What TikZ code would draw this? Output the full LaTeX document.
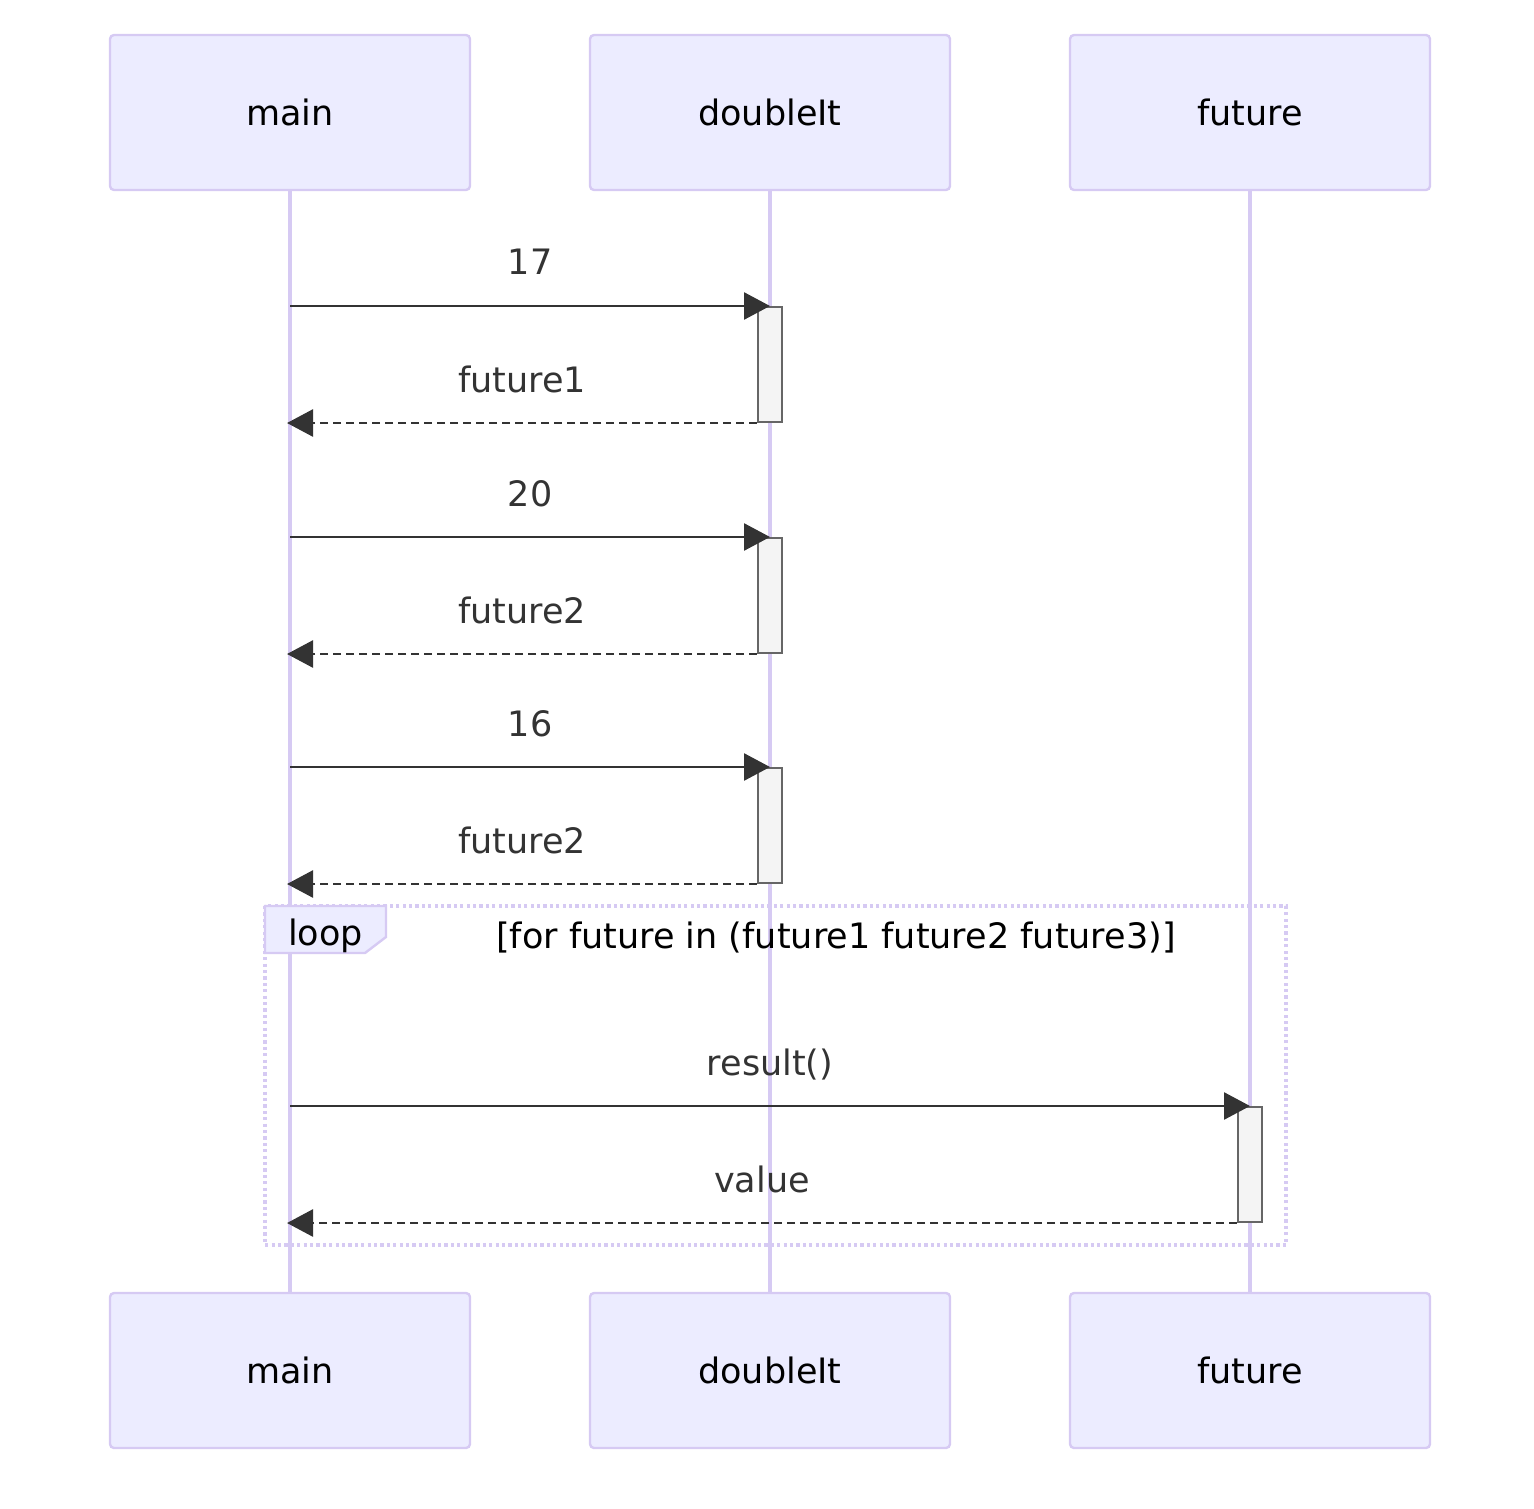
\documentclass[tikz,border=0pt]{standalone}
\usepackage{fontspec}
\setmainfont{DejaVu Sans}
\usetikzlibrary{arrows.meta,positioning}

\definecolor{actfill}{HTML}{ECECFF}
\definecolor{actline}{HTML}{D6CAF3}
\definecolor{msgcol}{HTML}{333333}
\definecolor{barfill}{HTML}{F4F4F4}
\definecolor{barline}{HTML}{666666}

\tikzset{
  actor/.style={draw=actline, fill=actfill, line width=1.2pt, rounded corners=2pt,
    minimum width=180pt, minimum height=77.5pt, inner sep=0pt,
    font=\fontsize{17.5}{21}\selectfont},
  lifeline/.style={draw=actline, line width=2pt},
  bar/.style={draw=barline, fill=barfill, line width=1pt,
    minimum width=12pt, minimum height=57.5pt, inner sep=0pt},
  msg/.style={draw=msgcol, line width=1.3pt, -{Triangle[length=13pt,width=13.5pt]}},
  reply/.style={msg, dash pattern=on 4pt off 2.5pt},
  lbl/.style={text=msgcol, anchor=base, yshift=15.5pt, inner sep=0pt,
    font=\fontsize{17.5}{21}\selectfont},
  loopline/.style={draw=actline, line width=1.6pt, dash pattern=on 1.6pt off 1.6pt},
  looptab/.style={draw=actline, fill=actfill, line width=1.2pt},
}

\begin{document}
\begin{tikzpicture}[x=0.5pt,y=-0.5pt]

        \useasboundingbox (0,0) rectangle (1534,1508);

        % actors
        \node[actor] (mainTop) at (290,112.5) {main};
        \node[actor] (dblTop) at (770,112.5) {doubleIt};
        \node[actor] (futTop) at (1250,112.5) {future};
        \node[actor] (mainBot) at (290,1370.5) {main};
        \node[actor] (dblBot) at (770,1370.5) {doubleIt};
        \node[actor] (futBot) at (1250,1370.5) {future};

        \draw[lifeline] (mainTop) -- (mainBot);
        \draw[lifeline] (dblTop) -- (dblBot);
        \draw[lifeline] (futTop) -- (futBot);

        % loop frame
        \coordinate (loopNW) at (265,906);
        \coordinate (loopSE) at (1286,1245);
        \draw[loopline] (loopNW) rectangle (loopSE);
        \draw[looptab] (loopNW) -- (386,906) -- (386,937) -- (365,953) -- (265,953) -- cycle;
        \node[anchor=base, inner sep=0pt, font=\fontsize{17.5}{21}\selectfont] (loopLbl) at (325.5,945) {loop};
        \node[anchor=base, inner sep=0pt, font=\fontsize{17.5}{21}\selectfont] (loopCond) at (836,948)
            {[for future in (future1 future2 future3)]};

        % calls to doubleIt
        \foreach \y/\a/\r [count=\i] in {306/17/future1, 537/20/future2, 767/16/future2}{
            \node[bar, anchor=north] (bar\i) at (770,\y) {};
            \draw[msg] (mainTop |- bar\i.north) -- (bar\i.north)
                node[lbl, midway] {\a};
            \draw[reply] (bar\i.south west) -- ([xshift=-1.5pt]mainTop |- bar\i.south)
                node[lbl, midway] {\r};
        }

        % call to future
        \node[bar, anchor=north] (bar4) at (1250,1106) {};
        \draw[msg] (mainTop |- bar4.north) -- (bar4.north)
            node[lbl, midway] {result()};
        \draw[reply] (bar4.south west) -- ([xshift=-1.5pt]mainTop |- bar4.south)
            node[lbl, midway] {value};

\end{tikzpicture}
\end{document}
